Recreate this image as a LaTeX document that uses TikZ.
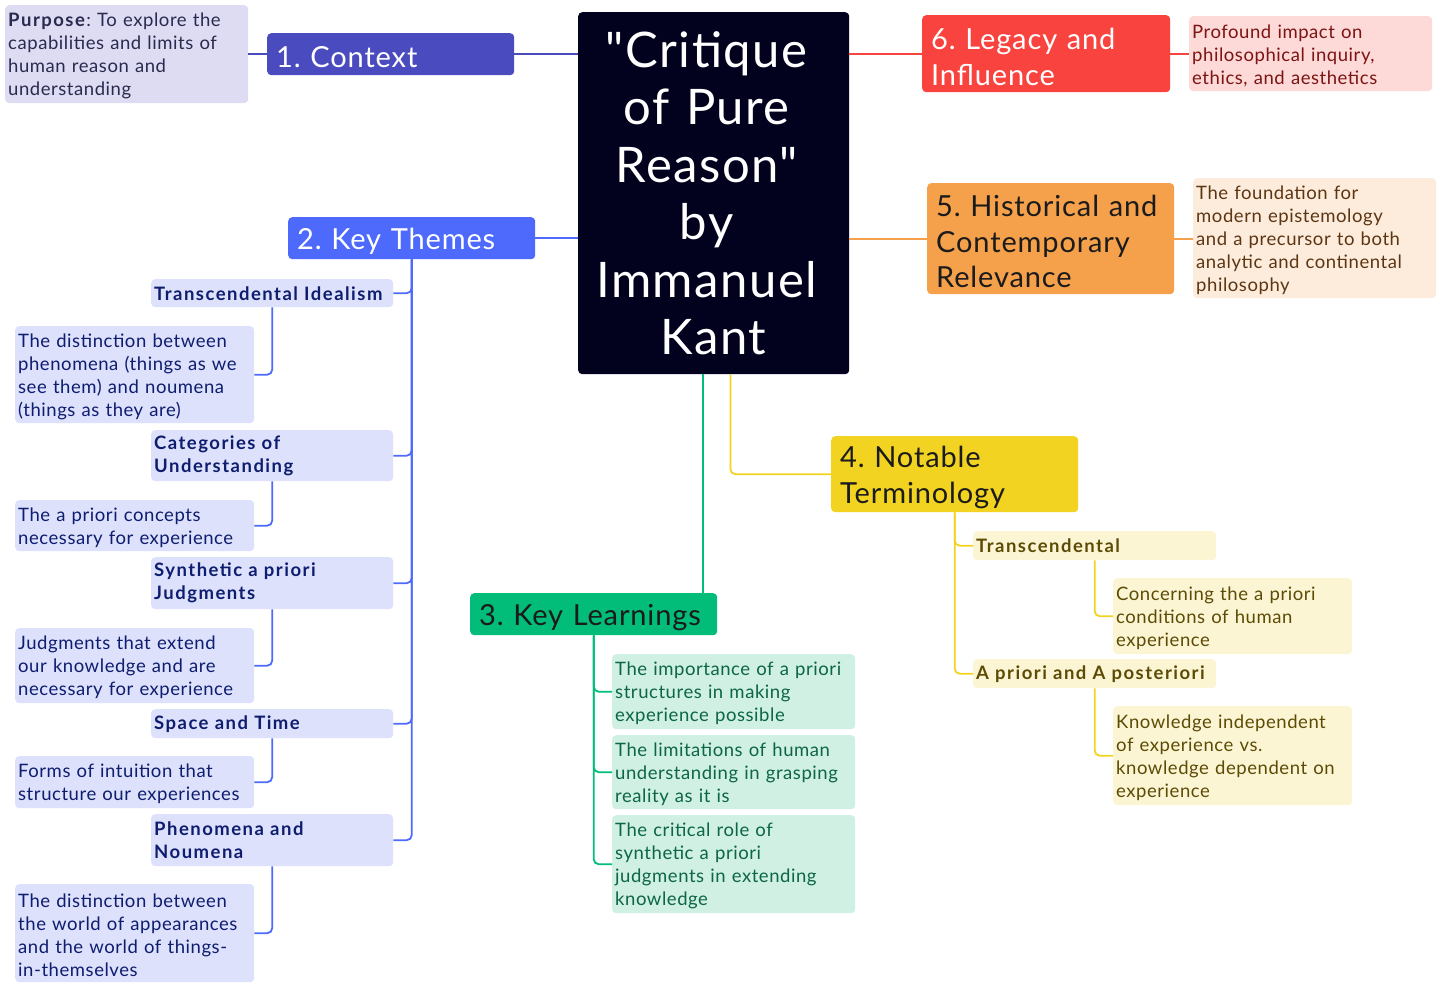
\documentclass[tikz,border=0pt]{standalone}
\usepackage{fontspec}
\setmainfont{Lato}[LetterSpace=3, BoldFeatures={LetterSpace=8}]
\newfontfamily\titlefont{Lato}[LetterSpace=3, Ligatures=TeXOff]
\usetikzlibrary{calc}
\frenchspacing

% palette
\definecolor{centralbg}{HTML}{02021E}
\definecolor{ctx}{HTML}{4B4BC0}\definecolor{ctxlight}{HTML}{DDDCF2}\definecolor{ctxtext}{HTML}{2A2A50}
\definecolor{kt}{HTML}{4D6AFD}\definecolor{ktlight}{HTML}{DDE1FC}\definecolor{kttext}{HTML}{0E1D6E}
\definecolor{kl}{HTML}{02BC7A}\definecolor{kllight}{HTML}{CFF0E3}\definecolor{kltext}{HTML}{0D6645}
\definecolor{nt}{HTML}{F2D321}\definecolor{ntlight}{HTML}{FCF5D4}\definecolor{nttext}{HTML}{5C4B05}
\definecolor{hc}{HTML}{F5A04A}\definecolor{hclight}{HTML}{FDEBDC}\definecolor{hctext}{HTML}{5C3613}
\definecolor{lg}{HTML}{F9433E}\definecolor{lglight}{HTML}{FDD9D8}\definecolor{lgtext}{HTML}{7D1414}
\definecolor{darktext}{HTML}{1B1B1B}

\tikzset{
  box/.style={rounded corners=4pt, anchor=north west, align=left, inner xsep=3pt, inner ysep=0pt},
  % a tall invisible strut on the first line sets the text a little lower in its box
  leaf/.style={box, font=\fontsize{18.5}{23}\selectfont, execute at begin node={\rule{0pt}{0.93em}}},
  subtopic/.style={box, font=\fontsize{18.5}{23}\selectfont\bfseries},
  topic/.style={box, inner xsep=9pt, font=\fontsize{29}{35.5}\selectfont, execute at begin node={\rule{0pt}{0.95em}}},
  link/.style={line width=1.8pt, rounded corners=5pt},
}

\begin{document}
\begin{tikzpicture}[x=1pt,y=-1pt]
\useasboundingbox (0,0) rectangle (1441,985);

% central topic
\node[box, fill=centralbg, text=white, align=center, inner xsep=0pt,
      minimum width=271pt, text width=271pt, minimum height=362pt,
      font=\titlefont\fontsize{49}{57.5}\selectfont] (central) at (578,12)
  {"Critique\kern14pt\\of Pure\kern14pt\\Reason"\kern14pt\\by\kern14pt\\Immanuel\kern14pt\\Kant};

% 1. Context
\node[topic, fill=ctx, text=white, text width=229pt, minimum height=42pt] (ctx) at (267,33) {1. Context};
\node[leaf, fill=ctxlight, text=ctxtext, text width=237pt, minimum height=98pt] (purpose) at (5,5)
  {\textbf{Purpose}: To explore the\\capabilities and limits of\\human reason and\\understanding};

% 2. Key Themes
\node[topic, fill=kt, text=white, text width=229pt, minimum height=42pt] (kt) at (288,217) {2. Key Themes};
\node[subtopic, fill=ktlight, text=kttext, text width=236pt, minimum height=28pt] (ti) at (151,279) {Transcendental Idealism};
\node[leaf, fill=ktlight, text=kttext, text width=233pt, minimum height=97pt] (tid) at (15,326)
  {The distinction between\\phenomena (things as we\\see them) and noumena\\(things as they are)};
\node[subtopic, fill=ktlight, text=kttext, text width=236pt, minimum height=51pt] (cu) at (151,430) {Categories of\\Understanding};
\node[leaf, fill=ktlight, text=kttext, text width=233pt, minimum height=51pt] (cud) at (15,500)
  {The a priori concepts\\necessary for experience};
\node[subtopic, fill=ktlight, text=kttext, text width=236pt, minimum height=52pt] (sj) at (151,557) {Synthetic a priori\\Judgments};
\node[leaf, fill=ktlight, text=kttext, text width=233pt, minimum height=75pt] (sjd) at (15,628)
  {Judgments that extend\\our knowledge and are\\necessary for experience};
\node[subtopic, fill=ktlight, text=kttext, text width=236pt, minimum height=29pt] (st) at (151,709) {Space and Time};
\node[leaf, fill=ktlight, text=kttext, text width=233pt, minimum height=52pt] (std) at (15,756)
  {Forms of intuition that\\structure our experiences};
\node[subtopic, fill=ktlight, text=kttext, text width=236pt, minimum height=52pt] (pn) at (151,814) {Phenomena and\\Noumena};
\node[leaf, fill=ktlight, text=kttext, text width=233pt, minimum height=98pt] (pnd) at (15,884)
  {The distinction between\\the world of appearances\\and the world of things-\\in-themselves};

% 3. Key Learnings
\node[topic, fill=kl, text=darktext, text width=229pt, minimum height=42pt] (kl) at (470,593) {3. Key Learnings};
\node[leaf, fill=kllight, text=kltext, text width=237pt, minimum height=75pt] (kl1) at (612,654)
  {The importance of a priori\\structures in making\\experience possible};
\node[leaf, fill=kllight, text=kltext, text width=237pt, minimum height=74pt] (kl2) at (612,735)
  {The limitations of human\\understanding in grasping\\reality as it is};
\node[leaf, fill=kllight, text=kltext, text width=237pt, minimum height=98pt] (kl3) at (612,815)
  {The critical role of\\synthetic a priori\\judgments in extending\\knowledge};

% 4. Notable Terminology
\node[topic, fill=nt, text=darktext, text width=229pt, minimum height=76pt] (nt) at (831,436) {4. Notable\\Terminology};
\node[subtopic, fill=ntlight, text=nttext, text width=237pt, minimum height=29pt] (tr) at (973,531) {Transcendental};
\node[leaf, fill=ntlight, text=nttext, text width=233pt, minimum height=76pt] (trd) at (1113,578)
  {Concerning the a priori\\conditions of human\\experience};
\node[subtopic, fill=ntlight, text=nttext, text width=237pt, minimum height=29pt] (ap) at (973,659) {A priori and A posteriori};
\node[leaf, fill=ntlight, text=nttext, text width=233pt, minimum height=99pt] (apd) at (1113,706)
  {Knowledge independent\\of experience vs.\\knowledge dependent on\\experience};

% 5. Historical and Contemporary Relevance
\node[topic, fill=hc, text=darktext, text width=229pt, minimum height=111pt] (hc) at (927,183)
  {5. Historical and\\Contemporary\\Relevance};
\node[leaf, fill=hclight, text=hctext, text width=237pt, minimum height=120pt] (hcd) at (1193,178)
  {The foundation for\\modern epistemology\\and a precursor to both\\analytic and continental\\philosophy};

% 6. Legacy and Influence
\node[topic, fill=lg, text=white, text width=230pt, minimum height=77pt] (lg) at (922,15) {6. Legacy and\\Influence};
\node[leaf, fill=lglight, text=lgtext, text width=237pt, minimum height=75pt] (lgd) at (1189,16)
  {Profound impact on\\philosophical inquiry,\\ethics, and aesthetics};

% connectors
\draw[link, ctx] (purpose.east) -- (ctx.west);
\draw[link, ctx] (ctx.east) -- (central.west |- ctx.east);
\draw[link, kt] (kt.east) -- (central.west |- kt.east);
\draw[link, lg] (central.east |- lg.west) -- (lg.west);
\draw[link, lg] (lg.east) -- (lgd.west |- lg.east);
\draw[link, hc] (central.east |- hc.west) -- (hc.west);
\draw[link, hc] (hc.east) -- (hcd.west |- hc.east);
\draw[link, kl] ([xshift=-14.5pt]kl.north east |- central.south) -- ([xshift=-14.5pt]kl.north east);
\draw[link, nt] ([xshift=-119pt]central.south east) |- (nt.west);

\foreach \s/\d in {ti/tid, cu/cud, sj/sjd, st/std, pn/pnd}{
  \draw[link, kt] (kt.south) |- (\s.east);
  \draw[link, kt] (\s.south) |- (\d.east);
}
\foreach \s in {kl1, kl2, kl3}{
  \draw[link, kl] (kl.south) |- (\s.west);
}
\foreach \s/\d in {tr/trd, ap/apd}{
  \draw[link, nt] (nt.south) |- (\s.west);
  \draw[link, nt] (\s.south) |- (\d.west);
}
\end{tikzpicture}
\end{document}
